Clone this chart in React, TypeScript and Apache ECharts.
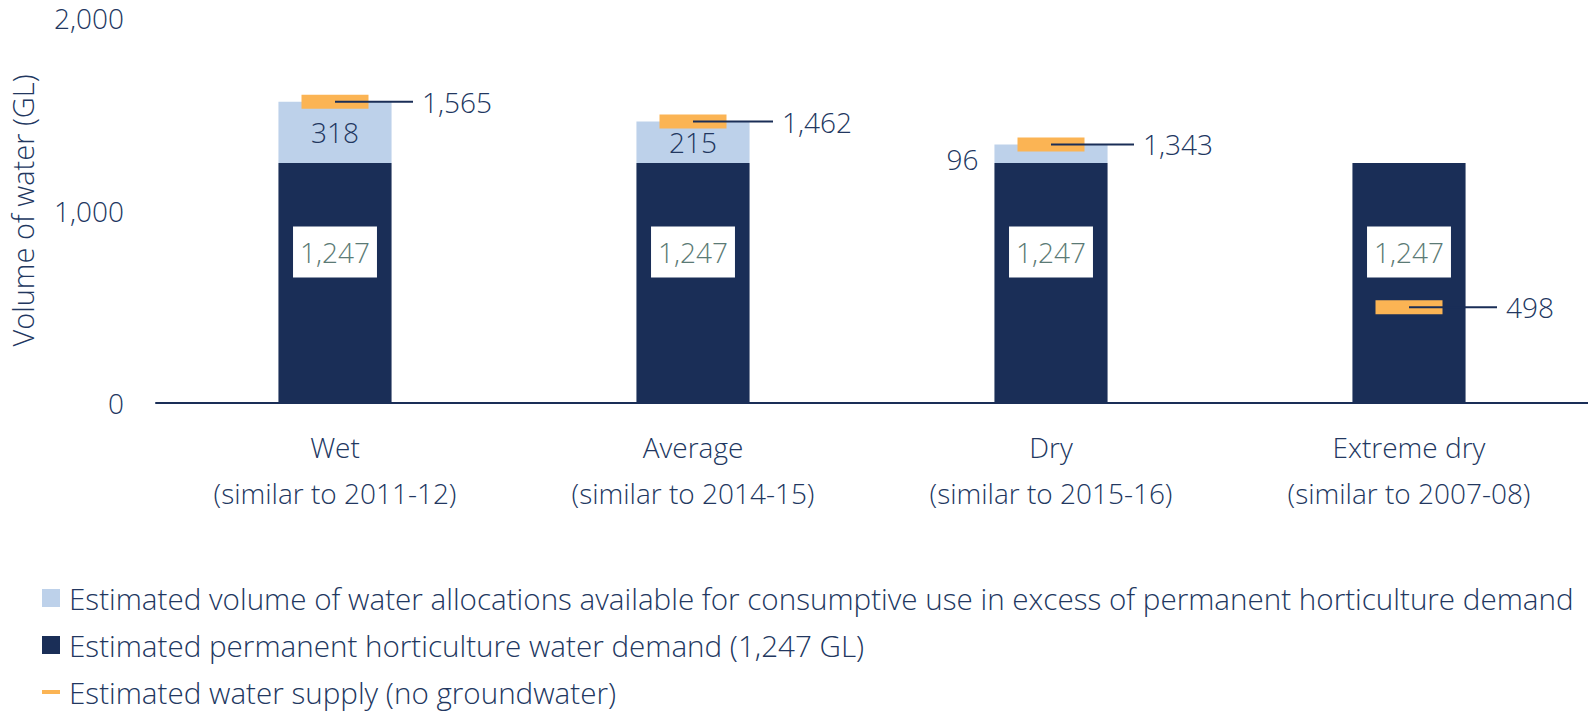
import React, { useEffect, useRef } from "react";
import * as echarts from "echarts";

const categories = ["Wet", "Average", "Dry", "Extreme dry"];
const similarYears = ["2011-12", "2014-15", "2015-16", "2007-08"];
const demand = [1247, 1247, 1247, 1247];
const excess = [318, 215, 96, 0];
const supply = [1565, 1462, 1343, 498];
const yTicks = { min: 0, max: 2000, interval: 1000 };

const NAME_EXCESS =
  "Estimated volume of water allocations available for consumptive use in excess of permanent horticulture demand";
const NAME_DEMAND = "Estimated permanent horticulture water demand (1,247 GL)";
const NAME_SUPPLY = "Estimated water supply (no groundwater)";

const NAVY = "#1a2e57";
const TEXT = "#22375f";
const LIGHT = "#bdd1ea";
const ORANGE = "#fbb454";
const GREY = "#5b7a75";
const FONT = '"Open Sans", "Noto Sans", sans-serif';
const FS = 28;
const LEADER = [78, 80, 83, 88];

const fmt = (v: number) => v.toLocaleString("en-US");

export default function App() {
  const ref = useRef<HTMLDivElement>(null);
  useEffect(() => {
    if (!ref.current) return;
    const chart = echarts.init(ref.current, undefined, { renderer: "svg" });
    const axisCats = categories.map((c, i) => `${c}\n(similar to ${similarYears[i]})`);
    const option: any = {
      animation: false,
      textStyle: { fontFamily: FONT, fontWeight: 300 },
      grid: { left: 152, right: 0, top: 18, bottom: 310, containLabel: false },
      legend: {
        orient: "vertical",
        left: 37,
        top: 578,
        padding: 5,
        itemWidth: 18,
        itemHeight: 18,
        itemGap: 17,
        selectedMode: false,
        textStyle: {
          fontFamily: FONT,
          fontWeight: 300,
          fontSize: 29.6,
          color: TEXT,
          lineHeight: 30,
          padding: [0, 0, 0, 4],
        },
        data: [
          { name: NAME_EXCESS, icon: "rect" },
          { name: NAME_DEMAND, icon: "rect" },
          {
            name: NAME_SUPPLY,
            icon: "path://M0,0L0.01,0L0.01,0.01Z M0,7H18V11H0Z M17.99,17.99L18,18L17.99,18Z",
          },
        ],
      },
      xAxis: {
        type: "category",
        data: axisCats,
        axisLine: { show: true, lineStyle: { color: NAVY, width: 2 } },
        axisTick: { show: false },
        axisLabel: {
          fontSize: FS,
          fontFamily: FONT,
          fontWeight: 300,
          color: TEXT,
          lineHeight: 46,
          margin: 21,
        },
      },
      yAxis: {
        type: "value",
        min: yTicks.min,
        max: yTicks.max,
        interval: yTicks.interval,
        name: "Volume of water (GL)",
        nameLocation: "middle",
        nameGap: 119,
        nameTextStyle: { fontSize: 29, fontFamily: FONT, fontWeight: 300, color: TEXT },
        axisLine: { show: false },
        axisTick: { show: false },
        splitLine: { show: false },
        axisLabel: {
          fontSize: FS,
          fontFamily: FONT,
          fontWeight: 300,
          color: TEXT,
          margin: 32,
          formatter: (v: number) => fmt(v),
        },
      },
      series: [
        {
          name: NAME_DEMAND,
          type: "bar",
          stack: "total",
          barWidth: "31.6%",
          itemStyle: { color: NAVY },
          data: demand,
          label: {
            show: true,
            position: ["50%", 89],
            align: "center",
            verticalAlign: "middle",
            formatter: (p: any) => fmt(p.value),
            fontSize: FS,
            fontFamily: FONT,
            fontWeight: 300,
            color: GREY,
            backgroundColor: "#ffffff",
            lineHeight: 28,
            padding: [12, 7, 11, 7],
          },
        },
        {
          name: NAME_EXCESS,
          type: "bar",
          stack: "total",
          itemStyle: { color: LIGHT },
          data: excess.map((v) => ({
            value: v,
            label:
              v > 0 && v < 150
                ? { position: "left", distance: 16, offset: [0, 5] }
                : { position: "inside" },
          })),
          label: {
            show: true,
            formatter: (p: any) => (p.value > 0 ? fmt(p.value) : ""),
            fontSize: FS,
            fontFamily: FONT,
            fontWeight: 300,
            color: TEXT,
          },
        },
        {
          name: NAME_SUPPLY,
          type: "custom",
          z: 5,
          itemStyle: { color: ORANGE },
          encode: { x: 0, y: 1 },
          data: supply.map((v, i) => [i, v]),
          renderItem: (params: any, api: any) => {
            const idx = api.value(0);
            const v = api.value(1);
            const pt = api.coord([idx, v]);
            const x = pt[0];
            const y = pt[1];
            const L = LEADER[params.dataIndex];
            return {
              type: "group",
              children: [
                {
                  type: "rect",
                  shape: { x: x - 33.5, y: y - 7, width: 67, height: 14 },
                  style: { fill: ORANGE },
                },
                {
                  type: "line",
                  shape: { x1: x, y1: y, x2: x + L, y2: y },
                  style: { stroke: NAVY, lineWidth: 2 },
                },
                {
                  type: "text",
                  x: x + L + 9,
                  y: y,
                  style: {
                    text: fmt(v),
                    fill: TEXT,
                    fontSize: FS,
                    fontFamily: FONT,
                    fontWeight: 300,
                    align: "left",
                    verticalAlign: "middle",
                  },
                },
              ],
            };
          },
        },
      ],
    };
    chart.setOption(option);
    return () => chart.dispose();
  }, []);
  return (
    <div
      ref={ref}
      style={{ position: "absolute", left: 0, top: 0, width: 1588, height: 713 }}
    />
  );
}
